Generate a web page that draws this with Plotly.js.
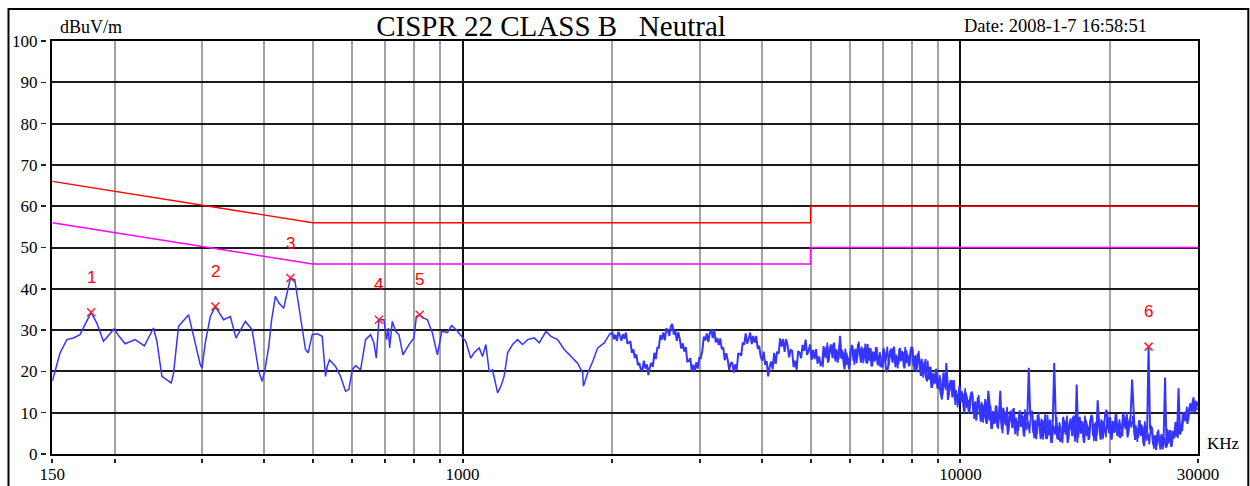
<!DOCTYPE html>
<html>
<head>
<meta charset="utf-8">
<script src="https://cdn.plot.ly/plotly-3.0.1.min.js"></script>
<style>html,body{margin:0;padding:0;background:#fff;}#chart{width:1250px;height:486px;}</style>
</head>
<body>
<div id="chart"></div>
<script>
// ---------- data (kHz, dBuV/m) ----------
const lowFreqKHz = [150,152.6,155.4,160.4,165.3,170.5,174.6,179.5,184.3,190.0,195.1,199.6,204.3,210.1,220.0,229.7,239.5,243.3,249.0,254.9,260.0,262.8,268.9,281.7,288.3,297.4,299.7,304.3,311.5,318.8,331.2,341.7,350.9,366.3,377.9,386.7,389.6,395.8,400.6,408.1,413.2,420.9,427.4,437.4,444.4,451.2,460.3,467.6,476.4,483.7,489.8,499.0,510.6,522.6,530.7,534.9,540.6,555.8,568.8,582.2,591.1,600.5,609.8,624.1,638.7,653.7,663.7,671.1,679.3,695.2,703.9,709.5,713.8,722.7,733.9,745.2,759.2,780.6,798.8,807.8,820.2,836.7,850.0,869.9,890.3,908.3,932.6,951.3,976.8,999.7,1015,1039,1055,1080,1097,1114,1131,1149,1176,1194,1212,1232,1260,1290,1320,1351,1393,1426,1471,1505,1552,1601,1651,1703,1743,1749,1784,1826,1868,1926,1971];
const lowLevel = [17.6,21.0,24.4,27.7,28.1,28.9,31.3,34.3,31.7,27.3,28.9,30.3,28.5,26.7,27.7,26.2,30.5,27.3,18.8,18.0,17.2,19.6,30.9,33.7,28.5,21.6,20.8,26.9,33.3,35.7,32.5,33.3,28.1,32.1,30.1,22.0,20.0,17.6,20.0,26.0,32.1,38.2,36.6,35.3,39.0,42.6,42.2,36.6,29.7,25.3,24.5,28.9,29.1,28.5,18.8,21.2,22.8,21.2,18.8,15.2,15.6,20.4,21.4,20.4,27.7,28.9,26.9,23.2,32.5,32.5,27.7,30.5,25.7,32.1,29.7,28.9,24.0,26.5,28.1,33.3,33.7,32.9,32.5,29.3,24.0,29.7,29.4,31.1,29.7,28.1,27.3,23.2,24.5,25.7,23.6,26.5,20.0,20.4,14.8,16.4,18.8,24.5,26.5,27.7,26.5,27.7,28.1,26.9,29.7,28.5,27.7,25.3,23.6,22.0,19.6,16.4,19.6,22.4,25.7,26.9,28.9];

// sweep 2 MHz .. 30 MHz, levels
const sweepStartKHz = 2000, sweepStopKHz = 30000;
const sweepLevel = [
29.4,27.8,28.9,27.4,29.6,28.7,27.4,29.0,27.9,29.4,26.7,27.0,27.3,24.5,25.3,23.2,24.1,21.5,22.0,20.4,
20.3,22.6,20.7,21.7,19.1,21.1,22.1,21.1,24.5,23.0,25.7,25.7,28.8,27.7,29.4,27.5,30.4,29.9,28.6,30.9,
31.5,28.9,29.9,27.4,29.5,27.8,25.5,26.8,24.8,25.9,22.4,22.5,23.2,20.0,21.6,20.0,22.2,20.7,23.3,23.2,
24.9,28.4,27.5,29.2,27.1,29.3,30.1,28.1,30.1,27.0,28.1,26.4,28.0,25.4,25.8,22.7,24.4,22.7,20.4,21.9,
22.2,19.7,21.7,20.4,24.3,24.3,23.8,27.0,26.5,29.2,26.7,27.9,29.4,26.6,28.6,26.9,28.6,25.5,26.2,23.6,
22.6,24.8,21.6,22.5,18.8,21.2,22.4,20.5,24.5,21.8,24.8,24.3,28.0,26.0,27.8,24.7,27.8,26.2,23.4,25.2,
25.0,21.0,22.6,20.4,24.9,24.5,23.2,26.4,25.0,27.7,24.0,25.0,26.5,22.8,25.2,23.0,25.4,21.9,23.6,21.5,
21.8,26.1,23.7,26.0,22.1,25.4,26.5,23.2,27.0,22.4,24.9,22.9,28.6,23.0,24.6,20.5,24.6,23.3,20.5,24.8,
26.4,22.6,25.3,22.0,26.7,24.8,22.1,25.6,23.4,26.7,21.9,23.4,25.6,21.2,24.8,22.4,25.9,21.7,23.9,21.1,
21.6,25.7,22.9,19.8,20.8,24.2,25.5,22.1,26.0,21.0,23.6,21.8,25.7,22.6,24.6,20.7,25.1,23.8,21.2,24.9,
26.0,21.4,23.7,19.8,24.4,22.1,18.9,22.4,19.8,23.0,17.6,18.8,21.1,16.0,19.6,16.9,20.6,15.9,18.3,15.0,
13.2,19.7,16.1,22.0,13.1,16.7,17.9,13.7,17.9,11.9,14.6,12.2,16.4,12.5,14.6,9.9,14.8,13.1,9.9,13.9,
15.1,9.8,12.5,8.1,13.7,11.2,7.8,12.1,9.3,13.3,7.3,15.3,11.7,6.1,10.4,7.3,11.7,6.5,9.2,15.3,
6.0,11.2,7.5,10.1,4.7,9.0,10.5,6.3,11.1,4.8,8.0,5.7,10.6,6.6,9.2,4.2,9.7,8.1,20.9,9.3,
10.5,5.1,8.0,3.6,9.4,7.0,3.6,8.2,5.4,9.6,3.6,5.4,8.3,2.7,7.3,22.0,9.0,3.7,6.7,3.0,
3.7,9.0,5.3,8.0,2.7,7.0,8.6,4.4,9.3,3.0,16.8,4.0,9.0,5.0,7.7,2.7,8.3,6.7,3.4,8.0,
9.5,4.4,7.3,3.1,13.0,6.7,3.5,8.0,5.5,9.7,10.7,6.0,8.9,3.5,8.0,5.1,9.6,4.5,7.4,3.9,
5.2,10.0,6.6,8.9,4.0,7.8,9.1,18.0,9.3,3.4,6.2,3.9,8.2,4.4,6.6,1.9,6.8,5.1,26.0,6.0,
6.5,2.3,4.4,1.0,5.4,3.6,1.1,4.6,2.7,18.5,1.6,3.3,5.8,1.8,5.6,3.8,7.7,4.2,15.9,4.7,
6.0,10.0,8.1,10.3,7.3,10.7,12.3,9.9,13.7,10.0,12.7,11.7];

// interleaved sweep points 5.3 MHz .. 29.9 MHz (between the points above)
const denseStartKHz = 5293, denseStopKHz = 29897;
const denseLevel = [
21.0,25.6,23.2,27.0,22.6,25.9,24.3,26.7,23.0,25.4,22.1,26.4,23.4,25.2,21.1,25.5,21.6,23.3,21.3,25.6,
25.9,21.6,25.5,23.0,27.2,23.7,26.0,22.0,24.7,22.0,26.6,22.6,25.6,21.2,24.6,22.7,25.9,21.4,24.7,22.9,
20.8,25.2,22.4,26.0,21.3,24.7,23.1,25.7,21.8,24.1,20.7,25.4,22.5,24.9,21.0,25.9,22.0,23.8,21.5,25.6,
25.4,20.3,24.0,20.9,25.0,21.0,23.1,18.5,21.2,18.0,22.6,18.0,21.1,16.0,19.3,17.2,20.6,15.7,19.1,16.9,
14.3,19.1,15.5,19.4,13.7,17.3,15.2,17.9,13.1,15.5,11.3,16.4,12.8,15.2,10.4,15.9,11.2,13.1,10.2,14.8,
14.5,8.5,12.8,9.4,14.3,9.9,12.6,7.6,10.9,7.5,13.1,8.1,11.7,6.1,10.1,7.6,11.7,6.1,10.2,7.9,
5.0,10.5,6.9,11.4,5.4,9.7,7.6,10.9,5.8,8.8,4.4,10.3,6.6,9.6,4.5,10.8,5.8,8.1,5.0,10.3,
9.8,3.8,8.3,4.9,10.1,5.7,8.6,3.5,7.1,3.7,9.5,4.5,8.3,2.7,7.0,4.7,9.0,3.4,7.7,5.3,
2.7,8.3,4.7,9.3,3.4,7.7,5.7,9.0,4.0,7.0,2.7,8.6,5.0,8.0,3.0,9.3,4.4,6.7,3.7,9.0,
8.9,3.1,7.7,4.5,9.6,5.5,8.4,3.6,7.2,4.0,9.8,5.0,8.9,3.5,7.7,5.4,9.7,4.2,8.4,6.2,
4.3,9.4,6.0,10.1,4.6,8.4,6.4,9.2,4.5,7.0,2.9,8.1,4.6,7.1,2.4,7.9,3.2,5.1,2.3,6.9,
6.0,1.3,4.6,2.0,5.9,2.6,4.8,1.1,3.9,1.5,6.1,2.6,5.8,1.8,5.4,4.0,7.7,3.9,7.7,6.4,
5.6,9.8,7.9,11.5,8.0,11.4,10.5,13.2,10.4,12.9,10.6];

// limits
const limitFreqKHz = [150, 500, 5000, 5000, 30000];
const qpLimit = [66, 56, 56, 60, 60];
const avLimit = [56, 46, 46, 50, 50];

// markers
const markerFreqKHz = [179.5, 318.8, 451.2, 679.3, 820.2, 23870];
const markerLevel = [34.3, 35.7, 42.6, 32.5, 33.7, 26.0];
const markerLabel = ['1', '2', '3', '4', '5', '6'];

// axis ticks
const grayGridKHz = [200,300,400,500,600,700,800,900,2000,3000,4000,5000,6000,7000,8000,9000,20000];
const blackGridKHz = [1000, 10000];
const xTickKHz = [150,200,300,400,500,600,700,800,900,1000,2000,3000,4000,5000,6000,7000,8000,9000,10000,20000,30000];
const xTickLabels = ['150','','','','','','','','','1000','','','','','','','','','10000','','30000'];
const yTicks = [0,10,20,30,40,50,60,70,80,90,100];

// ---------- build ----------
const logGrid = (a, b, n) => Array.from({length: n}, (_, i) => a * Math.pow(b / a, i / (n - 1)));
const sweepFreq = logGrid(sweepStartKHz, sweepStopKHz, sweepLevel.length);
const denseFreq = logGrid(denseStartKHz, denseStopKHz, denseLevel.length);
const lastLow = lowFreqKHz.length - 1;

const xr = [Math.log10(150), Math.log10(30000)];
const serif = 'Liberation Serif';
const blue = '#3535ff';

const W = 1250, H = 486, ml = 46, mr = 52, mt = 41, mb = 28;
const pw = W - ml - mr, ph = H - mt - mb;
const px2u = p => (p - ml) / pw;
const py2v = p => (H - mb - p) / ph;

const traces = [
  {x: limitFreqKHz, y: qpLimit, xaxis: 'x3', yaxis: 'y', mode: 'lines', line: {color: '#ff0000', width: 1.4}, hoverinfo: 'skip'},
  {x: limitFreqKHz, y: avLimit, mode: 'lines', line: {color: '#ff00ff', width: 1.4}, hoverinfo: 'skip'},
  {x: lowFreqKHz, y: lowLevel, mode: 'lines', line: {color: blue, width: 1.5}, hoverinfo: 'skip'},
  {x: [lowFreqKHz[lastLow]].concat(sweepFreq), y: [lowLevel[lastLow]].concat(sweepLevel), mode: 'lines', line: {color: blue, width: 2.0}, hoverinfo: 'skip'},
  {x: denseFreq, y: denseLevel, mode: 'lines', line: {color: blue, width: 1.6}, hoverinfo: 'skip'},
  {x: markerFreqKHz, y: markerLevel, xaxis: 'x2', yaxis: 'y2', mode: 'markers', marker: {symbol: 'x-thin-open', size: 8, color: '#ff2020', line: {color: '#ff2020', width: 1.5}}, hoverinfo: 'skip'}
];

const annotations = markerFreqKHz.map((f, i) => ({
  x: Math.log10(f), y: markerLevel[i], xref: 'x', yref: 'y', text: markerLabel[i], showarrow: false,
  yshift: 35, font: {family: 'Liberation Sans', size: 17, color: '#ff0000'}
}));
annotations.push(
  {xref: 'paper', yref: 'paper', x: px2u(90.5), y: py2v(27), text: 'dBuV/m', showarrow: false, xanchor: 'center', yanchor: 'middle', font: {family: serif, size: 18, color: '#000'}},
  {xref: 'paper', yref: 'paper', x: px2u(1055), y: py2v(26), text: 'Date: 2008-1-7 16:58:51', showarrow: false, xanchor: 'center', yanchor: 'middle', font: {family: serif, size: 18.5, color: '#000'}},
  {xref: 'paper', yref: 'paper', x: px2u(1223), y: py2v(443), text: 'KHz', showarrow: false, xanchor: 'center', yanchor: 'middle', font: {family: serif, size: 17, color: '#000'}}
);

const layout = {
  width: W, height: H,
  margin: {l: ml, r: mr, t: mt, b: mb, pad: 0},
  paper_bgcolor: '#fff', plot_bgcolor: '#fff',
  showlegend: false,
  title: {text: 'CISPR 22 CLASS B\u00a0\u00a0\u00a0Neutral', font: {family: serif, size: 29, color: '#000'},
          xref: 'container', yref: 'container', x: 551 / W, y: 1 - 26 / H, xanchor: 'center', yanchor: 'middle'},
  xaxis: {type: 'log', range: xr, domain: [6.3 / pw, 1], tickmode: 'array', tickvals: grayGridKHz,
          showgrid: true, gridcolor: '#a3a3a3', gridwidth: 2, showticklabels: false, ticks: '',
          showline: true, mirror: true, linecolor: '#000', linewidth: 2, zeroline: false, fixedrange: true},
  xaxis3: {type: 'log', range: xr, overlaying: 'x', anchor: 'y', side: 'bottom', tickmode: 'array', tickvals: blackGridKHz,
          showgrid: true, gridcolor: '#111', gridwidth: 2, showticklabels: false, ticks: '', showline: false, zeroline: false},
  xaxis2: {type: 'log', range: xr, overlaying: 'x', anchor: 'free', position: 0, side: 'bottom', tickmode: 'array',
          tickvals: xTickKHz, ticktext: xTickLabels, ticks: 'outside', ticklen: 4, tickwidth: 2, tickcolor: '#222',
          ticklabelstandoff: -3,
          showgrid: false, showline: false, zeroline: false, tickfont: {family: serif, size: 17, color: '#000'}},
  yaxis: {range: [0, 100], domain: [4 / ph, 1], tickmode: 'array', tickvals: yTicks, showgrid: true, gridcolor: '#1a1a1a', gridwidth: 2,
          showticklabels: false, ticks: '', showline: true, mirror: true, linecolor: '#000', linewidth: 2, zeroline: false, fixedrange: true},
  yaxis2: {range: [0, 100], overlaying: 'y', anchor: 'free', position: 0, side: 'left', tickmode: 'array', tickvals: yTicks,
          ticks: 'outside', ticklen: 5, tickwidth: 1.5, tickcolor: '#222', showgrid: false, showline: false, zeroline: false,
          tickfont: {family: serif, size: 17, color: '#000'}},
  annotations: annotations,
  shapes: [
    {type: 'rect', xref: 'paper', yref: 'paper', x0: px2u(8.5), x1: px2u(1248.3), y0: py2v(9), y1: py2v(500),
     line: {color: '#000', width: 2}, fillcolor: 'rgba(0,0,0,0)', layer: 'below'}
  ]
};

Plotly.newPlot('chart', traces, layout, {displayModeBar: false, staticPlot: true});
</script>
</body>
</html>
